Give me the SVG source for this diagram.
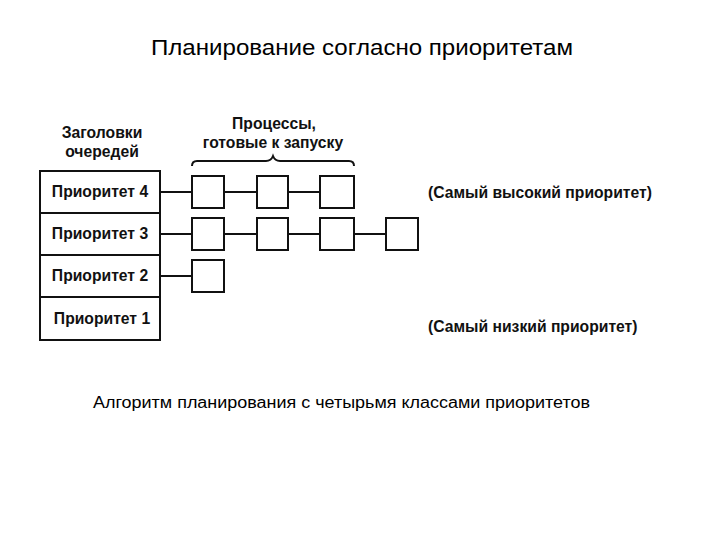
<svg xmlns="http://www.w3.org/2000/svg" width="720" height="540" viewBox="0 0 720 540">
<style>
.t{font-family:"Liberation Sans",Arial,sans-serif;fill:#000}
.b{font-family:"Liberation Sans",Arial,sans-serif;font-weight:bold;font-size:15.7px;fill:#111}
.box{fill:#fff;stroke:#111;stroke-width:2}
.ln{stroke:#111;stroke-width:2;fill:none}
</style>
<rect width="720" height="540" fill="#fff"/>
<text class="t" x="151" y="55" font-size="22" textLength="422" lengthAdjust="spacingAndGlyphs">Планирование согласно приоритетам</text>
<g id="header-label">
<text class="b" x="102" y="138" text-anchor="middle">Заголовки</text>
<text class="b" x="102" y="157" text-anchor="middle">очередей</text>
</g>
<g id="ready-label">
<text class="b" x="274" y="129" text-anchor="middle">Процессы,</text>
<text class="b" x="273" y="148" text-anchor="middle">готовые к запуску</text>
<path class="ln" d="M192,166 Q192,161 197,161 L266,161 Q271,161 273,156 Q275,161 280,161 L349,161 Q354,161 354,166" stroke-width="1.5"/>
</g>
<g id="connectors">
<line class="ln" x1="160" y1="192" x2="192" y2="192"/>
<line class="ln" x1="224" y1="192" x2="257" y2="192"/>
<line class="ln" x1="288" y1="192" x2="320" y2="192"/>
<line class="ln" x1="160" y1="234" x2="192" y2="234"/>
<line class="ln" x1="224" y1="234" x2="257" y2="234"/>
<line class="ln" x1="288" y1="234" x2="320" y2="234"/>
<line class="ln" x1="354" y1="234" x2="386" y2="234"/>
<line class="ln" x1="160" y1="276" x2="192" y2="276"/>
</g>
<g id="queue-headers">
<g id="prio4"><rect class="box" x="40" y="171" width="120" height="42"/><text class="b" x="100" y="197" text-anchor="middle">Приоритет 4</text></g>
<g id="prio3"><rect class="box" x="40" y="213" width="120" height="42"/><text class="b" x="100" y="239" text-anchor="middle">Приоритет 3</text></g>
<g id="prio2"><rect class="box" x="40" y="255" width="120" height="42"/><text class="b" x="100" y="281" text-anchor="middle">Приоритет 2</text></g>
<g id="prio1"><rect class="box" x="40" y="297" width="120" height="43"/><text class="b" x="102" y="324" text-anchor="middle">Приоритет 1</text></g>
</g>
<g id="p4a"><rect class="box" x="192" y="176" width="32" height="32"/></g>
<g id="p4b"><rect class="box" x="257" y="176" width="31" height="32"/></g>
<g id="p4c"><rect class="box" x="320" y="176" width="34" height="32"/></g>
<g id="p3a"><rect class="box" x="192" y="218" width="32" height="32"/></g>
<g id="p3b"><rect class="box" x="257" y="218" width="31" height="32"/></g>
<g id="p3c"><rect class="box" x="320" y="218" width="34" height="32"/></g>
<g id="p3d"><rect class="box" x="386" y="218" width="32" height="32"/></g>
<g id="p2a"><rect class="box" x="192" y="260" width="32" height="32"/></g>
<text class="b" x="428" y="198">(Самый высокий приоритет)</text>
<text class="b" x="428" y="332">(Самый низкий приоритет)</text>
<text class="t" x="93" y="408" font-size="16" textLength="497" lengthAdjust="spacingAndGlyphs">Алгоритм планирования с четырьмя классами приоритетов</text>
</svg>
